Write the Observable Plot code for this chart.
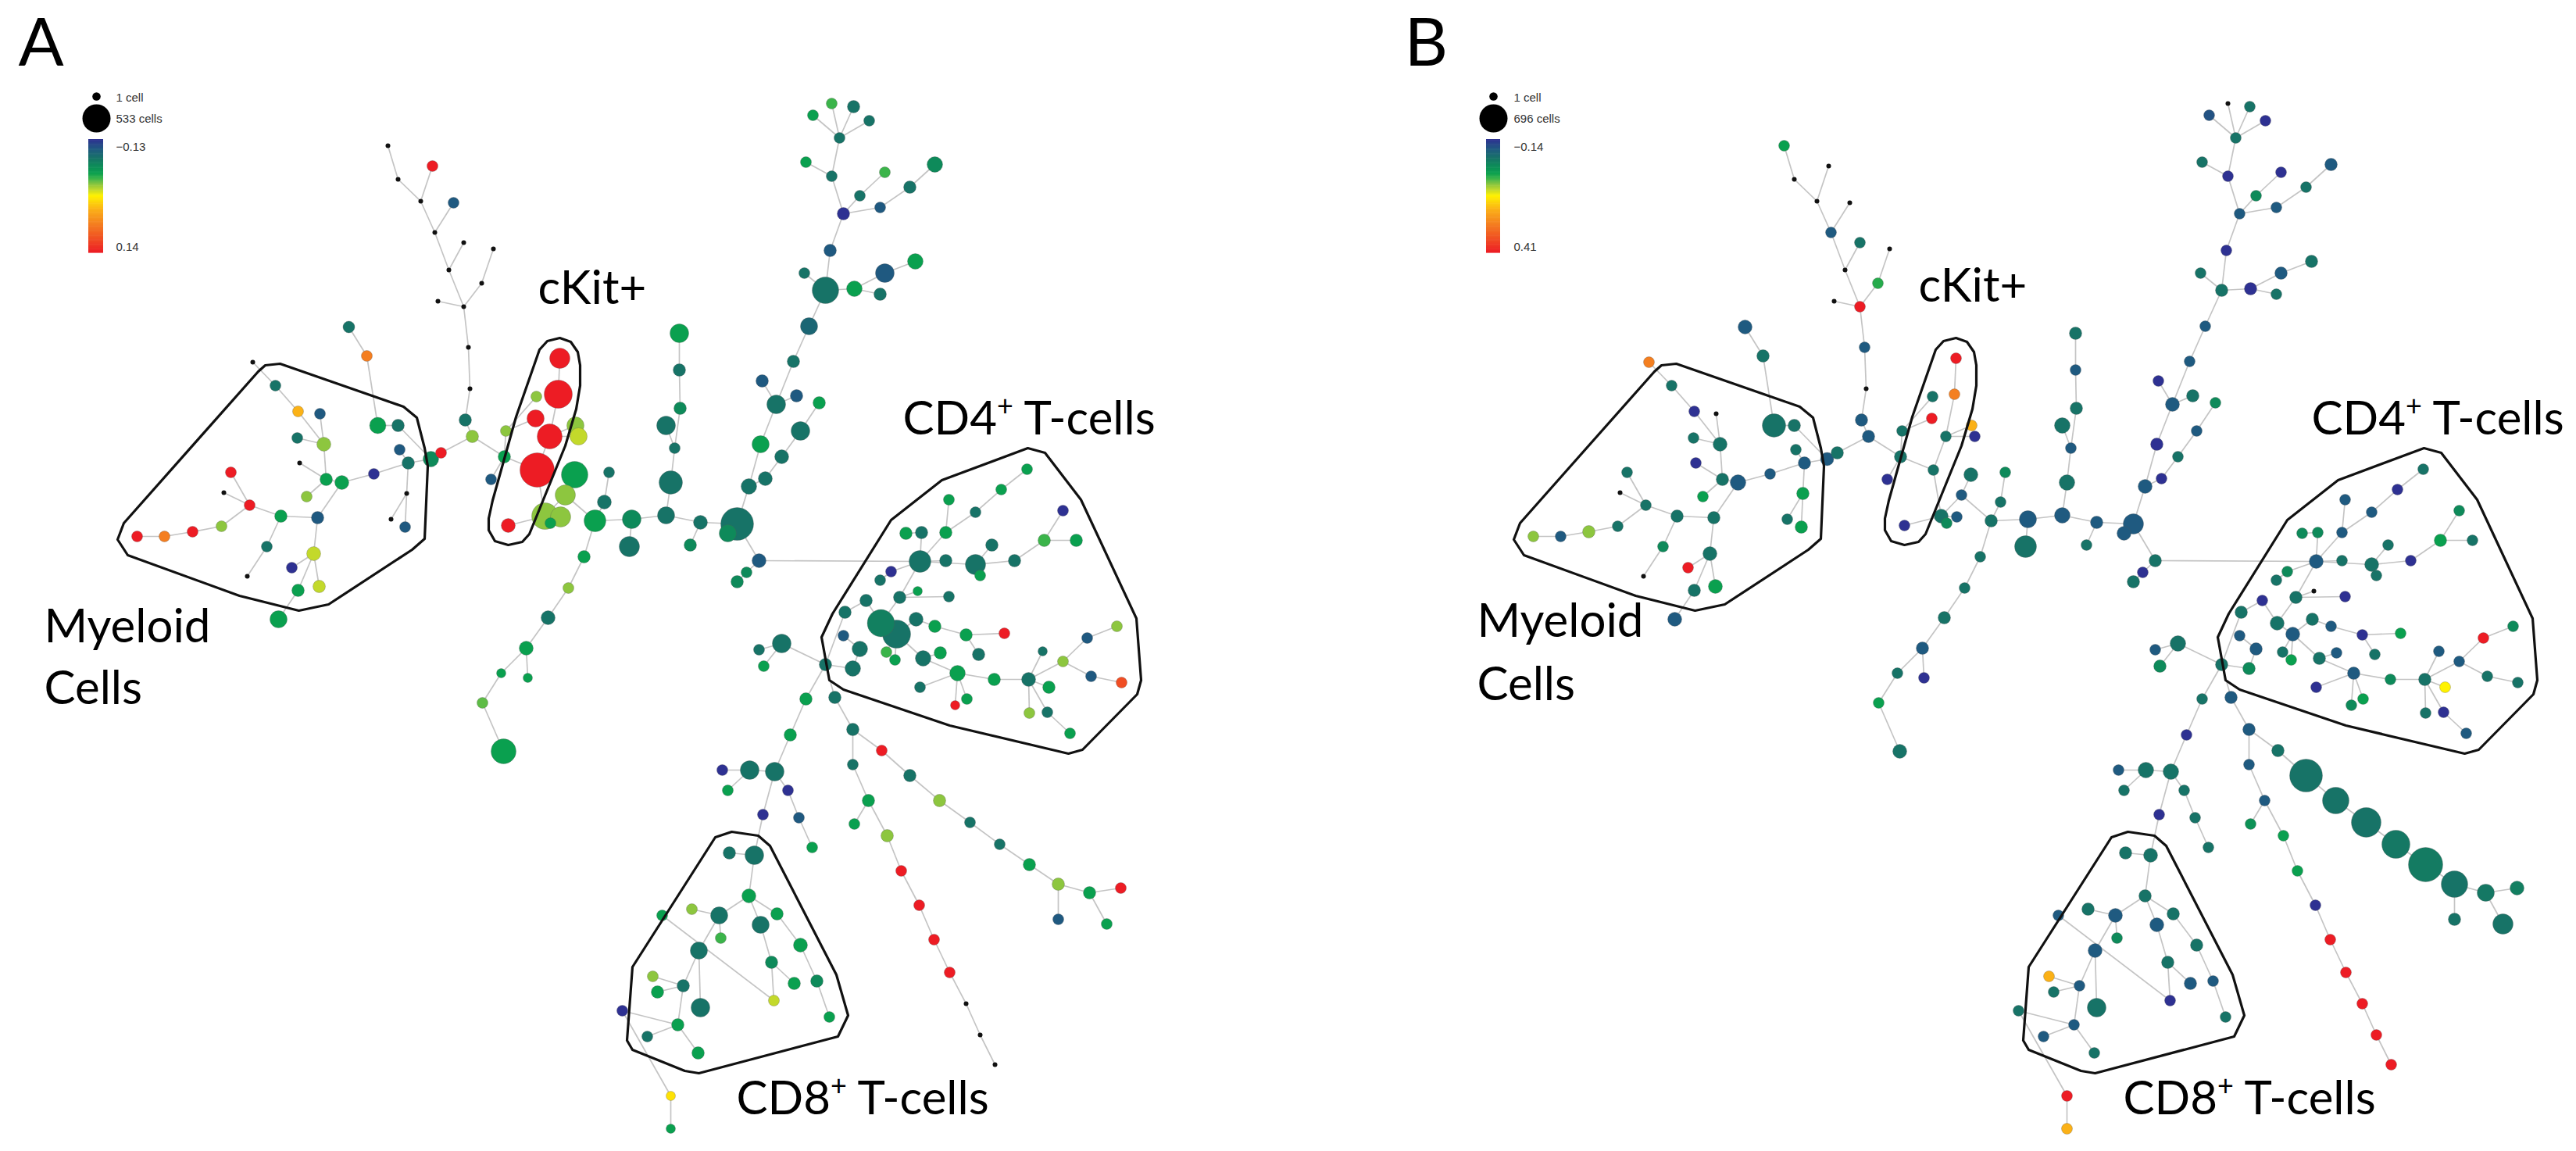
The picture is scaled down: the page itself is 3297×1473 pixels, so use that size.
<!DOCTYPE html>
<html><head><meta charset="utf-8">
<script src="https://cdn.jsdelivr.net/npm/d3@7"></script>
<script src="https://cdn.jsdelivr.net/npm/@observablehq/plot@0.6"></script>
<style>
html,body{margin:0;padding:0;background:#fff;}
#wrap{position:relative;width:3297px;height:1473px;overflow:hidden;background:#fff;}
#panelA{position:absolute;left:0;top:0;}
#panelB{position:absolute;left:1787px;top:0;}
</style></head><body>
<div id="wrap"><div id="panelA"></div><div id="panelB"></div></div>
<script>
// SPADE tree: node layout (x, y), cells and median-difference value for panel A and panel B.
// rows: [id, x, y, cellsA, valueA, cellsB, valueB]  (value null = no colour, tiny black node)
const stemNodes = [
 ["s1",496,186, 1,null, 105,0.025],
 ["s2",509,229, 1,null, 1,null],
 ["s3",553,212, 81,0.140, 1,null],
 ["s4",538,257, 1,null, 1,null],
 ["s5",580,259, 81,-0.106, 1,null],
 ["s6",556,297, 1,null, 105,-0.090],
 ["s7",593,310, 1,null, 105,-0.047],
 ["s8",574,345, 1,null, 1,null],
 ["s9",631,318, 1,null, 1,null],
 ["s10",616,362, 1,null, 105,0.040],
 ["s11",560,385, 1,null, 1,null],
 ["s12",593,392, 1,null, 105,0.410],
 ["s13",599,444, 1,null, 105,-0.090],
 ["s14",601,497, 1,null, 1,null],
 ["s15",595,537, 105,-0.084, 137,-0.090],
 ["s16",604,558, 105,-0.022, 137,-0.090],
 ["s17",564,579, 81,0.140, 137,-0.047]
];
const myeloidNodes = [
 ["m1",551,587, 164,-0.068, 155,-0.090],
 ["m2",483,544, 181,-0.049, 483,-0.047],
 ["m3",509,544, 105,-0.084, 137,-0.047],
 ["m4",469,455, 81,0.073, 137,-0.047],
 ["m5",446,418, 93,-0.084, 174,-0.090],
 ["m6",522,592, 105,-0.084, 137,-0.090],
 ["m7",511,575, 81,-0.106, 105,-0.047],
 ["m8",478,606, 81,-0.130, 105,-0.090],
 ["m9",437,617, 133,-0.049, 215,-0.090],
 ["m10",417,613, 105,-0.049, 137,-0.047],
 ["m11",392,635, 81,-0.022, 105,0.025],
 ["m12",414,568, 133,-0.022, 174,-0.047],
 ["m13",381,526, 81,0.037, 105,-0.140],
 ["m14",352,493, 81,-0.084, 105,-0.047],
 ["m15",323,463, 1,null, 105,0.273],
 ["m16",380,560, 81,-0.084, 105,-0.047],
 ["m17",409,529, 81,-0.106, 1,null],
 ["m18",383,592, 1,null, 105,-0.140],
 ["m19",406,662, 105,-0.106, 137,-0.047],
 ["m20",359,660, 105,-0.049, 137,-0.047],
 ["m21",319,646, 81,0.140, 105,-0.047],
 ["m22",295,604, 81,0.140, 105,-0.047],
 ["m23",286,630, 1,null, 1,null],
 ["m24",283,673, 81,-0.022, 105,-0.047],
 ["m25",246,680, 81,0.140, 137,0.080],
 ["m26",210,686, 81,0.073, 105,-0.090],
 ["m27",175,686, 81,0.140, 105,0.080],
 ["m28",341,699, 81,-0.084, 105,-0.014],
 ["m29",316,737, 1,null, 1,null],
 ["m30",401,708, 133,-0.009, 174,-0.047],
 ["m31",373,726, 81,-0.130, 105,0.410],
 ["m32",408,750, 105,-0.009, 174,0.025],
 ["m33",381,755, 105,-0.049, 137,-0.047],
 ["m34",356,792, 199,-0.049, 174,-0.090],
 ["m35",520,631, 1,null, 137,0.025],
 ["m36",500,664, 1,null, 105,-0.047],
 ["m37",518,674, 81,-0.106, 137,0.025]
];
const ckitNodes = [
 ["c1",645,584, 105,-0.049, 137,-0.047],
 ["c2",628,613, 81,-0.106, 105,-0.140],
 ["c3",647,551, 81,-0.022, 105,-0.047],
 ["c4",686,507, 81,-0.022, 105,-0.047],
 ["c5",716,458, 278,0.140, 105,0.410],
 ["c6",714,504, 533,0.140, 105,0.273],
 ["c7",685,535, 199,0.140, 105,0.410],
 ["c8",703,558, 421,0.140, 105,-0.047],
 ["c9",736,544, 199,-0.022, 105,0.201],
 ["c10",740,558, 199,-0.009, 105,-0.140],
 ["c11",687,601, 796,0.140, 105,-0.047],
 ["c12",650,672, 133,0.140, 105,-0.140],
 ["c13",735,607, 475,-0.049, 174,-0.047],
 ["c14",723,633, 278,-0.022, 105,-0.090],
 ["c15",697,660, 475,-0.022, 174,-0.047],
 ["c16",717,661, 278,-0.022, 105,-0.090],
 ["c17",704,669, 81,-0.049, 105,-0.014],
 ["c18",761,666, 322,-0.049, 137,-0.047],
 ["c19",779,604, 81,-0.084, 105,-0.014],
 ["c20",773,642, 133,-0.084, 105,-0.047]
];
const trunkNodes = [
 ["t1",808,664, 237,-0.068, 260,-0.090],
 ["t2",805,699, 278,-0.084, 421,-0.047],
 ["t3",852,659, 199,-0.084, 215,-0.090],
 ["t4",896,668, 133,-0.084, 137,-0.090],
 ["t5",883,697, 105,-0.068, 105,-0.047],
 ["t6",943,670, 725,-0.084, 363,-0.090],
 ["t7",931,682, 199,-0.068, 174,-0.090],
 ["t8",971,717, 133,-0.106, 137,-0.047],
 ["t9",955,732, 81,-0.068, 105,-0.140],
 ["t10",943,744, 105,-0.068, 137,-0.047],
 ["v1",858,617, 370,-0.084, 215,-0.047],
 ["v2",863,573, 81,-0.084, 105,-0.090],
 ["v3",852,544, 237,-0.084, 215,-0.047],
 ["v4",870,522, 105,-0.068, 137,-0.047],
 ["v5",869,473, 105,-0.084, 105,-0.090],
 ["v6",869,426, 237,-0.049, 137,-0.047]
];
const upperNodes = [
 ["u1",958,622, 164,-0.084, 174,-0.090],
 ["u2",973,568, 199,-0.049, 137,-0.140],
 ["u3",993,517, 237,-0.084, 174,-0.090],
 ["u4",975,487, 105,-0.106, 105,-0.140],
 ["u5",1019,506, 105,-0.106, 137,-0.047],
 ["u6",1015,462, 105,-0.084, 105,-0.090],
 ["u7",1035,417, 199,-0.095, 105,-0.090],
 ["u8",1056,371, 475,-0.084, 137,-0.047],
 ["u9",1029,349, 81,-0.084, 105,-0.047],
 ["u10",1093,369, 164,-0.049, 137,-0.140],
 ["u11",1132,349, 237,-0.106, 137,-0.090],
 ["u12",1171,334, 164,-0.049, 137,-0.047],
 ["u13",1126,376, 105,-0.084, 105,-0.047],
 ["u14",1062,320, 105,-0.106, 105,-0.140],
 ["u15",1079,273, 105,-0.130, 105,-0.090],
 ["u16",1100,250, 81,-0.084, 105,-0.014],
 ["u17",1132,220, 81,-0.036, 105,-0.140],
 ["u18",1126,265, 81,-0.106, 105,-0.090],
 ["u19",1164,239, 105,-0.084, 105,-0.047],
 ["u20",1196,210, 164,-0.068, 137,-0.090],
 ["u21",1064,225, 81,-0.084, 105,-0.140],
 ["u22",1031,207, 81,-0.049, 105,-0.047],
 ["u23",1074,176, 81,-0.084, 105,-0.047],
 ["u24",1064,132, 81,-0.036, 1,null],
 ["u25",1092,136, 105,-0.084, 105,-0.047],
 ["u26",1040,147, 81,-0.049, 105,-0.100],
 ["u27",1112,154, 81,-0.084, 105,-0.140],
 ["w1",979,612, 133,-0.084, 105,-0.140],
 ["w2",1000,584, 133,-0.084, 105,-0.047],
 ["w3",1024,551, 237,-0.084, 105,-0.090],
 ["w4",1048,515, 105,-0.049, 105,-0.014]
];
const lowerLeftNodes = [
 ["l1",747,712, 105,-0.049, 105,-0.047],
 ["l2",727,752, 81,-0.022, 105,-0.047],
 ["l3",701,790, 133,-0.084, 137,-0.047],
 ["l4",673,829, 133,-0.049, 137,-0.090],
 ["l5",641,861, 59,-0.049, 105,-0.047],
 ["l6",675,867, 59,-0.049, 105,-0.140],
 ["l7",617,899, 81,-0.030, 105,0.025],
 ["l8",644,961, 421,-0.049, 174,-0.047]
];
const cd4Nodes = [
 ["d1",1177,718, 322,-0.084, 174,-0.090],
 ["d2",1210,717, 105,-0.084, 105,-0.047],
 ["d3",1248,722, 278,-0.084, 174,-0.047],
 ["d4",1298,717, 105,-0.084, 105,-0.140],
 ["d5",1140,731, 81,-0.130, 105,-0.014],
 ["d6",1126,742, 81,-0.084, 105,-0.047],
 ["d7",1314,600, 81,-0.049, 105,-0.047],
 ["d8",1281,626, 81,-0.049, 105,-0.140],
 ["d9",1214,639, 81,-0.049, 105,-0.090],
 ["d10",1248,655, 81,-0.084, 105,-0.090],
 ["d11",1360,653, 81,-0.130, 105,-0.014],
 ["d12",1159,682, 105,-0.049, 105,-0.014],
 ["d13",1179,681, 105,-0.084, 105,-0.014],
 ["d14",1210,681, 105,-0.049, 105,-0.090],
 ["d15",1336,691, 105,-0.036, 137,0.025],
 ["d16",1377,691, 105,-0.049, 105,-0.047],
 ["d17",1269,697, 105,-0.084, 105,-0.047],
 ["d18",1254,736, 81,-0.049, 105,-0.047],
 ["d19",1151,764, 105,-0.084, 137,-0.047],
 ["d20",1108,768, 105,-0.084, 105,-0.140],
 ["d21",1174,756, 59,-0.049, 1,null],
 ["d22",1214,763, 81,-0.084, 105,-0.140],
 ["d23",1081,783, 105,-0.084, 137,-0.047],
 ["d24",1127,797, 500,-0.075, 174,-0.047],
 ["d25",1147,811, 533,-0.084, 174,-0.090],
 ["d26",1172,792, 133,-0.084, 137,-0.047],
 ["d27",1196,801, 105,-0.049, 105,-0.090],
 ["d28",1079,813, 81,-0.106, 105,-0.090],
 ["d29",1100,830, 164,-0.084, 137,-0.090],
 ["d30",1134,834, 81,-0.036, 105,-0.047],
 ["d31",1145,844, 81,-0.049, 105,0.025],
 ["d32",1181,842, 164,-0.084, 137,-0.047],
 ["d33",1091,855, 164,-0.084, 137,-0.014],
 ["d34",1056,850, 105,-0.084, 137,-0.047],
 ["d35",1236,812, 105,-0.049, 105,-0.140],
 ["d36",1285,810, 81,0.140, 105,0.025],
 ["d37",1252,837, 105,-0.084, 105,-0.047],
 ["d38",1203,835, 105,-0.049, 105,-0.090],
 ["d39",1225,861, 164,-0.049, 137,-0.090],
 ["d40",1272,869, 105,-0.049, 105,-0.014],
 ["d41",1316,869, 133,-0.084, 137,-0.047],
 ["d42",1334,833, 59,-0.084, 105,-0.090],
 ["d43",1360,846, 81,-0.022, 105,-0.090],
 ["d44",1391,816, 81,-0.106, 105,0.410],
 ["d45",1429,801, 81,-0.022, 105,-0.014],
 ["d46",1396,865, 81,-0.106, 105,-0.047],
 ["d47",1435,873, 81,0.108, 105,-0.047],
 ["d48",1177,879, 81,-0.084, 105,-0.140],
 ["d49",1222,902, 59,0.140, 105,-0.014],
 ["d50",1237,894, 81,-0.049, 105,0.025],
 ["d51",1342,879, 105,-0.049, 105,0.135],
 ["d52",1317,912, 81,-0.022, 105,-0.047],
 ["d53",1340,911, 81,-0.084, 105,-0.140],
 ["d54",1369,938, 81,-0.049, 105,-0.090],
 ["d55",1000,823, 237,-0.084, 215,-0.047],
 ["d56",971,831, 81,-0.084, 105,-0.090],
 ["d57",977,852, 81,-0.049, 137,-0.014]
];
const lowerNodes = [
 ["e1",1031,894, 105,-0.049, 105,-0.047],
 ["e2",1068,892, 105,-0.084, 137,-0.090],
 ["e3",1011,940, 105,-0.049, 105,-0.140],
 ["e4",1091,933, 105,-0.084, 137,-0.090],
 ["e5",991,987, 237,-0.084, 215,-0.047],
 ["e6",959,985, 237,-0.084, 215,-0.047],
 ["e7",924,985, 81,-0.130, 105,-0.090],
 ["e8",931,1011, 81,-0.049, 105,-0.047],
 ["e9",1008,1011, 81,-0.130, 105,-0.047],
 ["e10",1022,1046, 81,-0.106, 105,-0.047],
 ["e11",1039,1084, 81,-0.049, 105,-0.047],
 ["e12",976,1042, 81,-0.130, 105,-0.140],
 ["f1",1091,978, 81,-0.084, 105,-0.090],
 ["f2",1111,1024, 105,-0.049, 105,-0.090],
 ["f3",1093,1054, 81,-0.049, 105,0.000],
 ["f4",1135,1069, 105,-0.022, 105,0.025],
 ["f5",1153,1114, 81,0.140, 105,0.025],
 ["f6",1176,1158, 81,0.140, 105,-0.140],
 ["f7",1195,1202, 81,0.140, 105,0.410],
 ["f8",1215,1244, 81,0.140, 105,0.410],
 ["f9",1236,1284, 1,null, 105,0.410],
 ["f10",1254,1324, 1,null, 105,0.410],
 ["f11",1273,1362, 1,null, 105,0.410],
 ["g1",1128,960, 81,0.140, 137,-0.047],
 ["g2",1164,992, 105,-0.084, 947,-0.047],
 ["g3",1202,1024, 105,-0.022, 621,-0.047],
 ["g4",1241,1052, 81,-0.084, 775,-0.047],
 ["g5",1279,1080, 81,-0.084, 696,-0.040],
 ["g6",1317,1106, 105,-0.049, 1040,-0.035],
 ["g7",1354,1131, 105,-0.022, 621,-0.047],
 ["g8",1394,1142, 105,-0.049, 260,-0.040],
 ["g9",1434,1136, 81,0.140, 174,-0.030],
 ["g10",1354,1176, 81,-0.106, 137,-0.047],
 ["g11",1416,1182, 81,-0.049, 363,-0.047]
];
const cd8Nodes = [
 ["h1",933,1091, 105,-0.084, 137,-0.047],
 ["h2",965,1094, 237,-0.084, 174,-0.047],
 ["h3",958,1146, 133,-0.049, 137,-0.047],
 ["h4",920,1171, 199,-0.084, 174,-0.090],
 ["h5",885,1163, 81,-0.022, 137,-0.047],
 ["h6",847,1171, 81,-0.049, 105,-0.090],
 ["h7",922,1200, 81,-0.036, 105,-0.014],
 ["h8",973,1183, 199,-0.084, 174,-0.090],
 ["h9",994,1169, 105,-0.049, 137,-0.047],
 ["h10",1024,1209, 133,-0.049, 137,-0.047],
 ["h11",894,1216, 199,-0.084, 174,-0.090],
 ["h12",987,1231, 105,-0.068, 137,-0.047],
 ["h13",1016,1258, 105,-0.049, 137,-0.090],
 ["h14",1045,1255, 105,-0.068, 105,-0.090],
 ["h15",835,1249, 81,-0.022, 105,0.201],
 ["h16",874,1261, 105,-0.084, 105,-0.090],
 ["h17",841,1269, 105,-0.049, 105,-0.047],
 ["h18",896,1289, 237,-0.084, 309,-0.047],
 ["h19",990,1280, 81,-0.009, 105,-0.140],
 ["h20",1061,1301, 81,-0.049, 105,-0.047],
 ["h21",796,1293, 81,-0.130, 105,-0.047],
 ["h22",867,1311, 105,-0.049, 105,-0.090],
 ["h23",828,1326, 81,-0.084, 105,-0.090],
 ["h24",893,1347, 105,-0.049, 105,-0.047],
 ["h25",858,1402, 59,0.013, 105,0.410],
 ["h26",858,1444, 59,-0.049, 105,0.201]
];

// tree edges
const stemEdges = [["s1","s2"],["s2","s4"],["s3","s4"],["s4","s6"],["s5","s6"],["s6","s8"],["s7","s8"],["s8","s12"],["s9","s10"],["s10","s12"],["s11","s12"],["s12","s13"],["s13","s14"],["s14","s15"],["s15","s16"],["s16","s17"],["s17","m1"],["s16","c1"]];
const myeloidEdges = [["m1","m3"],["m3","m2"],["m2","m4"],["m4","m5"],["m1","m6"],["m6","m7"],["m6","m8"],["m8","m9"],["m9","m10"],["m10","m11"],["m10","m12"],["m12","m13"],["m13","m14"],["m14","m15"],["m12","m16"],["m12","m17"],["m10","m18"],["m9","m19"],["m19","m20"],["m20","m21"],["m21","m22"],["m21","m23"],["m21","m24"],["m24","m25"],["m25","m26"],["m26","m27"],["m20","m28"],["m28","m29"],["m19","m30"],["m30","m31"],["m30","m32"],["m30","m33"],["m33","m34"],["m6","m35"],["m35","m36"],["m35","m37"]];
const ckitEdges = [["c1","c2"],["c1","c3"],["c3","c4"],["c3","c7"],["c5","c6"],["c6","c8"],["c8","c9"],["c8","c10"],["c8","c11"],["c1","c11"],["c11","c15"],["c15","c12"],["c15","c16"],["c15","c17"],["c15","c14"],["c13","c14"],["c14","c18"],["c18","c20"],["c20","c19"],["c18","t1"],["c18","l1"]];
const trunkEdges = [["t1","t2"],["t1","t3"],["t3","t4"],["t4","t5"],["t4","t6"],["t6","t7"],["t6","t8"],["t8","t9"],["t9","t10"],["t3","v1"],["v1","v2"],["v2","v3"],["v2","v4"],["v4","v5"],["v5","v6"],["t6","u1"],["u1","u2"],["u2","u3"],["u3","u4"],["u3","u5"],["u3","u6"],["u6","u7"],["u7","u8"],["u8","u9"],["u8","u10"],["u10","u11"],["u11","u12"],["u10","u13"],["u8","u14"],["u14","u15"],["u15","u16"],["u16","u17"],["u15","u18"],["u18","u19"],["u19","u20"],["u15","u21"],["u21","u22"],["u21","u23"],["u23","u24"],["u23","u25"],["u23","u26"],["u23","u27"],["u1","w1"],["w1","w2"],["w2","w3"],["w3","w4"]];
const lowerLeftEdges = [["l1","l2"],["l2","l3"],["l3","l4"],["l4","l5"],["l4","l6"],["l5","l7"],["l7","l8"]];
const cd4Edges = [["t8","d1"],["d1","d2"],["d1","d3"],["d3","d4"],["d4","d15"],["d15","d16"],["d15","d11"],["d3","d17"],["d3","d18"],["d1","d14"],["d14","d9"],["d14","d10"],["d10","d8"],["d8","d7"],["d1","d13"],["d13","d12"],["d1","d5"],["d5","d6"],["d1","d19"],["d19","d21"],["d19","d22"],["d19","d24"],["d24","d25"],["d24","d20"],["d20","d23"],["d23","d34"],["d25","d26"],["d26","d27"],["d27","d35"],["d35","d36"],["d35","d37"],["d25","d30"],["d25","d31"],["d25","d32"],["d32","d38"],["d32","d39"],["d39","d48"],["d39","d49"],["d39","d50"],["d39","d40"],["d40","d41"],["d41","d42"],["d41","d43"],["d43","d44"],["d44","d45"],["d43","d46"],["d46","d47"],["d41","d51"],["d41","d52"],["d41","d53"],["d53","d54"],["d34","d33"],["d33","d29"],["d29","d28"],["d34","d55"],["d55","d56"],["d55","d57"]];
const lowerEdges = [["d34","e1"],["d34","e2"],["e1","e3"],["e3","e5"],["e5","e6"],["e6","e7"],["e6","e8"],["e5","e9"],["e9","e10"],["e10","e11"],["e5","e12"],["e2","e4"],["e4","f1"],["f1","f2"],["f2","f3"],["f2","f4"],["f4","f5"],["f5","f6"],["f6","f7"],["f7","f8"],["f8","f9"],["f9","f10"],["f10","f11"],["e4","g1"],["g1","g2"],["g2","g3"],["g3","g4"],["g4","g5"],["g5","g6"],["g6","g7"],["g7","g8"],["g8","g9"],["g7","g10"],["g8","g11"]];
const cd8Edges = [["e12","h2"],["h2","h1"],["h2","h3"],["h3","h4"],["h4","h5"],["h3","h9"],["h9","h10"],["h10","h14"],["h14","h20"],["h3","h8"],["h8","h12"],["h12","h19"],["h12","h13"],["h4","h7"],["h4","h11"],["h11","h16"],["h16","h15"],["h16","h17"],["h16","h22"],["h22","h23"],["h22","h24"],["h22","h21"],["h21","h25"],["h25","h26"],["h19","h6"],["h11","h18"]];

// population outlines
const myeloidHull = [[339,467],[358,465],[516,520],[533,534],[543,573],[547,596],[543,689],[527,703],[420,773],[382,781],[306,762],[163,710],[150,690],[158,669],[330,475]];
const ckitHull = [[716,432],[730,437],[739,450],[742,467],[742,493],[737,523],[723,570],[677,683],[668,693],[650,697],[633,692],[625,678],[625,663],[630,640],[660,533],[690,447],[700,436]];
const cd4Hull = [[1205,614],[1315,573],[1337,579],[1383,639],[1454,791],[1460,870],[1455,888],[1385,959],[1367,964],[1215,928],[1079,882],[1061,870],[1051,815],[1065,785],[1140,665]];
const cd8Hull = [[915,1071],[936,1064],[970,1069],[985,1082],[1070,1247],[1085,1299],[1072,1326],[894,1373],[876,1370],[809,1343],[802,1331],[809,1237]];

// population labels
const labelTexts = ["cKit+","CD4+ T-cells","Myeloid","Cells","CD8+ T-cells"];
const labelPosA = [[688,369],[1155,536],[56,802],[56,881],[942,1406]];
const labelPosB = [[668,366],[1171,536],[103,795],[103,876],[930,1406]];

// legends
const sizeLegendA = ["1 cell","533 cells"], sizeLegendB = ["1 cell","696 cells"];
const colorDomainA = [-0.13, 0.14], colorDomainB = [-0.14, 0.41];
const colorTicksA = ["\u22120.13","0.14"], colorTicksB = ["\u22120.14","0.41"];
const maxCellsA = 533, maxCellsB = 696;

const stops = [[0,"#2e3192"],[0.09,"#1f5a80"],[0.17,"#177367"],[0.23,"#0e8a5a"],[0.30,"#0aa04f"],[0.35,"#3db54a"],[0.40,"#8dc63f"],[0.45,"#c5da2a"],[0.50,"#fff200"],[0.62,"#fbb117"],[0.75,"#f47f20"],[0.88,"#f04e23"],[1,"#ed1c24"]];
function spade(t){
  t = Math.max(0, Math.min(1, t));
  for (let i = 1; i < stops.length; i++) {
    if (t <= stops[i][0]) {
      const [t0,c0] = stops[i-1], [t1,c1] = stops[i];
      return d3.interpolateRgb(c0,c1)((t-t0)/(t1-t0));
    }
  }
  return stops[stops.length-1][1];
}

const allRows = [...stemNodes, ...myeloidNodes, ...ckitNodes, ...trunkNodes, ...upperNodes, ...lowerLeftNodes, ...cd4Nodes, ...lowerNodes, ...cd8Nodes];
const allEdges = [...stemEdges, ...myeloidEdges, ...ckitEdges, ...trunkEdges, ...lowerLeftEdges, ...cd4Edges, ...lowerEdges, ...cd8Edges];
const hulls = [["myeloid",myeloidHull],["ckit",ckitHull],["cd4",cd4Hull],["cd8",cd8Hull]];

function drawPanel(which, W, cfg) {
  const nodes = allRows.map(r => ({id:r[0], x:r[1], y:r[2], cells: which==="A"?r[3]:r[5], value: which==="A"?r[4]:r[6]}));
  const byId = new Map(nodes.map(d => [d.id, d]));
  const links = allEdges.filter(([a,b]) => byId.has(a) && byId.has(b)).map(([a,b]) => ({x1:byId.get(a).x, y1:byId.get(a).y, x2:byId.get(b).x, y2:byId.get(b).y}));
  const colored = nodes.filter(d => d.value != null);
  const black = nodes.filter(d => d.value == null);
  const hullPts = hulls.flatMap(([name, pts]) => pts.map(([x,y]) => ({hull:name, x, y})));
  const labels = labelTexts.map((t,i) => ({text:t, x:cfg.labelPos[i][0], y:cfg.labelPos[i][1]}));
  const [lo, hi] = cfg.domain;
  const nSteps = 120, barTop = 178, barBottom = 323;
  const bar = d3.range(nSteps).map(i => ({
    y1: barTop + (barBottom-barTop)*i/nSteps,
    y2: barTop + (barBottom-barTop)*(i+1)/nSteps + 0.6,
    v: lo + (hi-lo)*(i+0.5)/nSteps
  }));
  const legendFont = "Liberation Sans, Arial, sans-serif";
  const svg = Plot.plot({
    width: W, height: 1473, margin: 0,
    x: {domain:[0,W], range:[0,W], axis:null},
    y: {domain:[0,1473], range:[0,1473], axis:null},
    r: {type:"sqrt", domain:[0, cfg.maxCells], range:[0,18]},
    color: {type:"linear", domain:[lo,hi], interpolate: spade},
    style: {background:"white"},
    marks: [
      Plot.link(links, {x1:"x1", y1:"y1", x2:"x2", y2:"y2", stroke:"#c4c4c4", strokeWidth:1.7}),
      Plot.dot(colored, {x:"x", y:"y", r:"cells", fill:"value", stroke:"#555", strokeOpacity:0.3, strokeWidth:1}),
      Plot.dot(black, {x:"x", y:"y", r:3, fill:"#111"}),
      Plot.line(hullPts, {x:"x", y:"y", z:"hull", curve:"linear-closed", stroke:"#111", strokeWidth:3.2, strokeLinejoin:"round"}),
      Plot.text(labels, {x:"x", y:"y", text:"text", textAnchor:"start", fontSize:60, fontFamily:"Lato, 'Open Sans', sans-serif", fill:"#000"}),
      Plot.text([cfg.letter], {x:cfg.letterX, y:56, text:d=>d, textAnchor:"start", fontSize:86, fontFamily:"Lato, 'Open Sans', sans-serif", fill:"#000"}),
      // size legend
      Plot.dot([0], {x:cfg.dotX, y:123, r:5.3, fill:"#000"}),
      Plot.dot([0], {x:cfg.dotX, y:151, r:18, fill:"#000"}),
      Plot.text([cfg.sizeText[0]], {x:cfg.textX, y:125, text:d=>d, textAnchor:"start", fontSize:15, fontFamily:legendFont, fill:"#333"}),
      Plot.text([cfg.sizeText[1]], {x:cfg.textX, y:152, text:d=>d, textAnchor:"start", fontSize:15, fontFamily:legendFont, fill:"#333"}),
      // colour legend
      Plot.rect(bar, {x1:cfg.barX[0], x2:cfg.barX[1], y1:"y1", y2:"y2", fill:"v"}),
      Plot.text([cfg.ticks[0]], {x:cfg.textX, y:188, text:d=>d, textAnchor:"start", fontSize:15, fontFamily:legendFont, fill:"#333"}),
      Plot.text([cfg.ticks[1]], {x:cfg.textX, y:316, text:d=>d, textAnchor:"start", fontSize:15, fontFamily:legendFont, fill:"#333"})
    ]
  });
  // superscript "+" in CD4+/CD8+ labels
  svg.querySelectorAll("text").forEach(t => {
    const m = /^(CD\d)\+( T-cells)$/.exec(t.textContent);
    if (!m) return;
    const ns = "http://www.w3.org/2000/svg";
    t.textContent = "";
    const a = document.createElementNS(ns, "tspan"); a.textContent = m[1];
    const b = document.createElementNS(ns, "tspan"); b.textContent = "+"; b.setAttribute("font-size","36"); b.setAttribute("dy","-24");
    const c = document.createElementNS(ns, "tspan"); c.textContent = m[2]; c.setAttribute("dy","24");
    t.append(a, b, c);
  });
  return svg;
}

document.getElementById("panelA").append(drawPanel("A", 1787, {
  domain: colorDomainA, maxCells: maxCellsA, letter:"A", letterX:23, dotX:123, textX:148, barX:[113,132],
  sizeText: sizeLegendA, ticks: colorTicksA, labelPos: labelPosA
}));
document.getElementById("panelB").append(drawPanel("B", 1510, {
  domain: colorDomainB, maxCells: maxCellsB, letter:"B", letterX:10, dotX:124, textX:150, barX:[115,133],
  sizeText: sizeLegendB, ticks: colorTicksB, labelPos: labelPosB
}));
</script>
</body></html>
